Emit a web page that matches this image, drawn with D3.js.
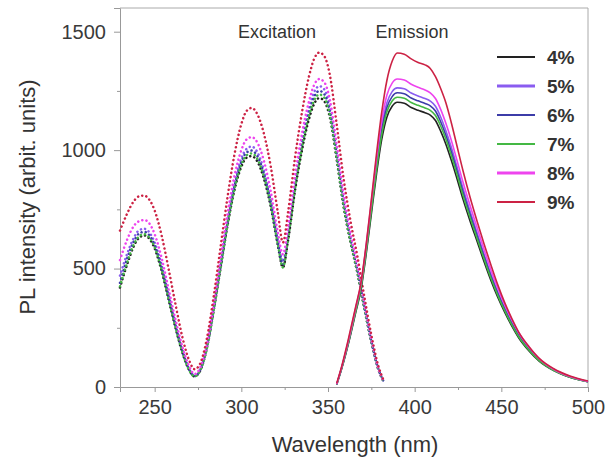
<!DOCTYPE html>
<html>
<head>
<meta charset="utf-8">
<script src="https://cdn.jsdelivr.net/npm/d3@7"></script>
<style>
  body { margin: 0; background: #fff; }
  text { font-family: Arial, "Liberation Sans", sans-serif; }
</style>
</head>
<body>
<script>
    // series labels and colours (4% .. 9%)
    var seriesNames = ["4%", "5%", "6%", "7%", "8%", "9%"];
    var seriesColors = ["#222222", "#8a5cf0", "#3c3ca8", "#44b844", "#ee44ee", "#cc2244"];

    // excitation spectra (dotted)
    var exWave = [230, 234, 238, 241, 244, 247, 250, 254, 258, 262, 266, 270, 273, 276, 280, 284, 288, 292, 296, 300,
                  303, 306, 309, 313, 317, 321, 324, 327, 331, 335, 339, 342, 345, 348, 351, 355, 359, 363, 367, 371,
                  375, 379, 382];
    var ex4 = [420, 515, 595, 630, 640, 625, 585, 490, 370, 250, 145, 70, 45, 65, 160, 320, 500, 680, 830, 930,
               968, 975, 955, 880, 760, 600, 505, 620, 830, 1000, 1130, 1195, 1220, 1205, 1140, 960, 760, 610, 480, 330,
               190, 75, 25];
    var ex5 = [470, 560, 630, 662, 668, 652, 610, 515, 390, 265, 155, 75, 48, 70, 165, 330, 515, 700, 860, 965,
               1005, 1015, 995, 915, 790, 625, 530, 650, 865, 1040, 1175, 1245, 1270, 1255, 1185, 1000, 790, 630, 495, 340,
               195, 78, 25];
    var ex6 = [440, 540, 615, 648, 655, 640, 598, 503, 380, 258, 150, 72, 46, 67, 162, 325, 508, 690, 845, 950,
               990, 998, 978, 900, 778, 615, 518, 638, 850, 1022, 1155, 1225, 1250, 1235, 1165, 982, 778, 622, 490, 336,
               193, 77, 25];
    var ex7 = [425, 522, 602, 636, 645, 630, 590, 495, 374, 253, 147, 70, 45, 66, 160, 322, 503, 683, 835, 938,
               978, 986, 966, 890, 768, 606, 505, 625, 838, 1010, 1142, 1210, 1235, 1220, 1152, 970, 768, 615, 484, 332,
               191, 76, 25];
    var ex8 = [536, 620, 680, 700, 705, 690, 645, 545, 415, 285, 170, 85, 55, 78, 175, 345, 540, 730, 890, 1000,
               1045, 1055, 1035, 955, 825, 655, 560, 680, 895, 1070, 1205, 1275, 1300, 1285, 1215, 1025, 815, 650, 510, 350,
               200, 80, 25];
    var ex9 = [660, 730, 785, 805, 808, 790, 745, 640, 500, 350, 210, 110, 75, 95, 200, 380, 590, 800, 980, 1110,
               1165, 1178, 1155, 1070, 930, 740, 610, 740, 970, 1160, 1310, 1385, 1412, 1395, 1320, 1110, 880, 700, 550, 380,
               220, 90, 30];

    // emission spectra (solid)
    var emWave = [355, 358, 362, 366, 369, 372, 375, 378, 381, 384, 387, 390, 394, 398, 402, 406, 409, 412, 415, 418,
                  421, 424, 428, 432, 436, 440, 444, 448, 452, 456, 460, 466, 472, 480, 490, 500];
    var em4 = [10, 80, 190, 315, 410, 560, 730, 900, 1045, 1140, 1185, 1202, 1198, 1180, 1168, 1158, 1148, 1125, 1080, 1025,
               960, 890, 790, 700, 615, 530, 450, 378, 315, 258, 208, 152, 108, 70, 40, 22];
    var em5 = [11, 85, 199, 330, 430, 587, 768, 947, 1100, 1200, 1247, 1263, 1259, 1241, 1229, 1218, 1207, 1185, 1140, 1082,
               1015, 940, 836, 741, 651, 562, 477, 401, 334, 274, 221, 162, 115, 74, 42, 23];
    var em6 = [10, 83, 196, 325, 424, 578, 756, 932, 1082, 1180, 1226, 1242, 1238, 1220, 1208, 1197, 1187, 1165, 1120, 1063,
               996, 923, 820, 727, 638, 551, 467, 393, 327, 268, 216, 158, 112, 72, 41, 22];
    var em7 = [10, 82, 194, 320, 418, 570, 745, 918, 1065, 1162, 1207, 1223, 1219, 1201, 1189, 1178, 1168, 1146, 1102, 1046,
               980, 908, 806, 714, 627, 541, 459, 386, 321, 263, 212, 155, 110, 71, 40, 22];
    var em8 = [12, 87, 203, 335, 436, 596, 782, 966, 1125, 1233, 1283, 1300, 1296, 1278, 1265, 1254, 1242, 1218, 1172, 1113,
               1045, 968, 862, 765, 673, 582, 494, 416, 347, 285, 230, 168, 119, 76, 43, 23];
    var em9 = [15, 90, 210, 340, 440, 600, 790, 985, 1160, 1295, 1375, 1410, 1405, 1385, 1370, 1360, 1345, 1310, 1260, 1200,
               1120, 1030, 910, 800, 700, 605, 515, 430, 355, 290, 232, 170, 120, 78, 45, 25];

    var exSeries = [ex4, ex5, ex6, ex7, ex8, ex9];
    var emSeries = [em4, em5, em6, em7, em8, em9];

    var xTicks = [250, 300, 350, 400, 450, 500];
    var yTicks = [0, 500, 1000, 1500];

    const margin = {top: 8, right: 23, bottom: 79, left: 120};
    const width = 611 - margin.left - margin.right;
    const height = 466 - margin.top - margin.bottom;

    var svg = d3.select("body")
                .append("svg")
                .attr("width", 611)
                .attr("height", 466);

    var g = svg.append("g")
               .attr("transform", "translate(" + margin.left + "," + margin.top + ")");

    var x = d3.scaleLinear().domain([230, 500]).range([0, width]);
    var y = d3.scaleLinear().domain([0, 1600]).range([height, 0]);

    // minor ticks first, major on top
    g.append("g")
        .attr("transform", "translate(0," + height + ")")
        .call(d3.axisBottom(x).tickValues([275, 325, 375, 425, 475]).tickSize(3).tickFormat(""))
        .call(function(a) { a.select(".domain").remove(); a.selectAll("line").attr("stroke", "#999"); });
    g.append("g")
        .call(d3.axisLeft(y).tickValues([250, 750, 1250]).tickSize(3).tickFormat(""))
        .call(function(a) { a.select(".domain").remove(); a.selectAll("line").attr("stroke", "#999"); });

    var xAxis = g.append("g")
        .attr("transform", "translate(0," + height + ")")
        .call(d3.axisBottom(x).tickValues(xTicks).tickSize(5).tickPadding(8).tickFormat(d3.format("d")));
    var yAxis = g.append("g")
        .call(d3.axisLeft(y).tickValues(yTicks).tickSize(6).tickPadding(8).tickFormat(d3.format("d")));

    [xAxis, yAxis].forEach(function(a) {
        a.select(".domain").attr("stroke", "#999");
        a.selectAll("line").attr("stroke", "#999");
        a.selectAll("text").attr("font-size", 20).attr("fill", "#3a3a3a")
            .style("font-family", "Arial, 'Liberation Sans', sans-serif");
    });

    // top and right frame
    g.append("path")
        .attr("d", "M0,0H" + width + "V" + height)
        .attr("fill", "none")
        .attr("stroke", "#aaa");

    var line = d3.line()
                 .x(function(d) { return x(d[0]); })
                 .y(function(d) { return y(d[1]); })
                 .curve(d3.curveMonotoneX);

    // excitation, dotted
    exSeries.forEach(function(vals, i) {
        g.append("path")
            .datum(exWave.map(function(w, j) { return [w, vals[j]]; }))
            .attr("d", line)
            .attr("fill", "none")
            .attr("stroke", seriesColors[i])
            .attr("stroke-width", 2.5)
            .attr("stroke-linecap", "round")
            .attr("stroke-dasharray", "0.1,4.2");
    });

    // emission, solid
    emSeries.forEach(function(vals, i) {
        g.append("path")
            .datum(emWave.map(function(w, j) { return [w, vals[j]]; }))
            .attr("d", line)
            .attr("fill", "none")
            .attr("stroke", seriesColors[i])
            .attr("stroke-width", 1.6);
    });

    // annotations (pixel positions in the frame)
    svg.append("text")
        .attr("x", 277).attr("y", 38)
        .attr("text-anchor", "middle")
        .attr("font-size", 18).attr("fill", "#333")
        .text("Excitation");
    svg.append("text")
        .attr("x", 412).attr("y", 38)
        .attr("text-anchor", "middle")
        .attr("font-size", 18).attr("fill", "#333")
        .text("Emission");

    // legend
    var leg = svg.append("g").attr("transform", "translate(497,57)");
    seriesNames.forEach(function(name, i) {
        leg.append("line")
            .attr("x1", 0).attr("x2", 38)
            .attr("y1", i * 29).attr("y2", i * 29)
            .attr("stroke", seriesColors[i])
            .attr("stroke-width", (i == 1 || i == 4) ? 3 : 2);
        leg.append("text")
            .attr("x", 50).attr("y", i * 29 + 7)
            .attr("font-size", 19).attr("font-weight", "bold").attr("fill", "#333")
            .text(name);
    });

    // axis titles
    svg.append("text")
        .attr("x", 355).attr("y", 452)
        .attr("text-anchor", "middle")
        .attr("font-size", 22).attr("fill", "#333")
        .text("Wavelength (nm)");
    svg.append("text")
        .attr("transform", "translate(35," + 197 + ") rotate(-90)")
        .attr("text-anchor", "middle")
        .attr("font-size", 22).attr("fill", "#333")
        .text("PL intensity (arbit. units)");
</script>
</body>
</html>
